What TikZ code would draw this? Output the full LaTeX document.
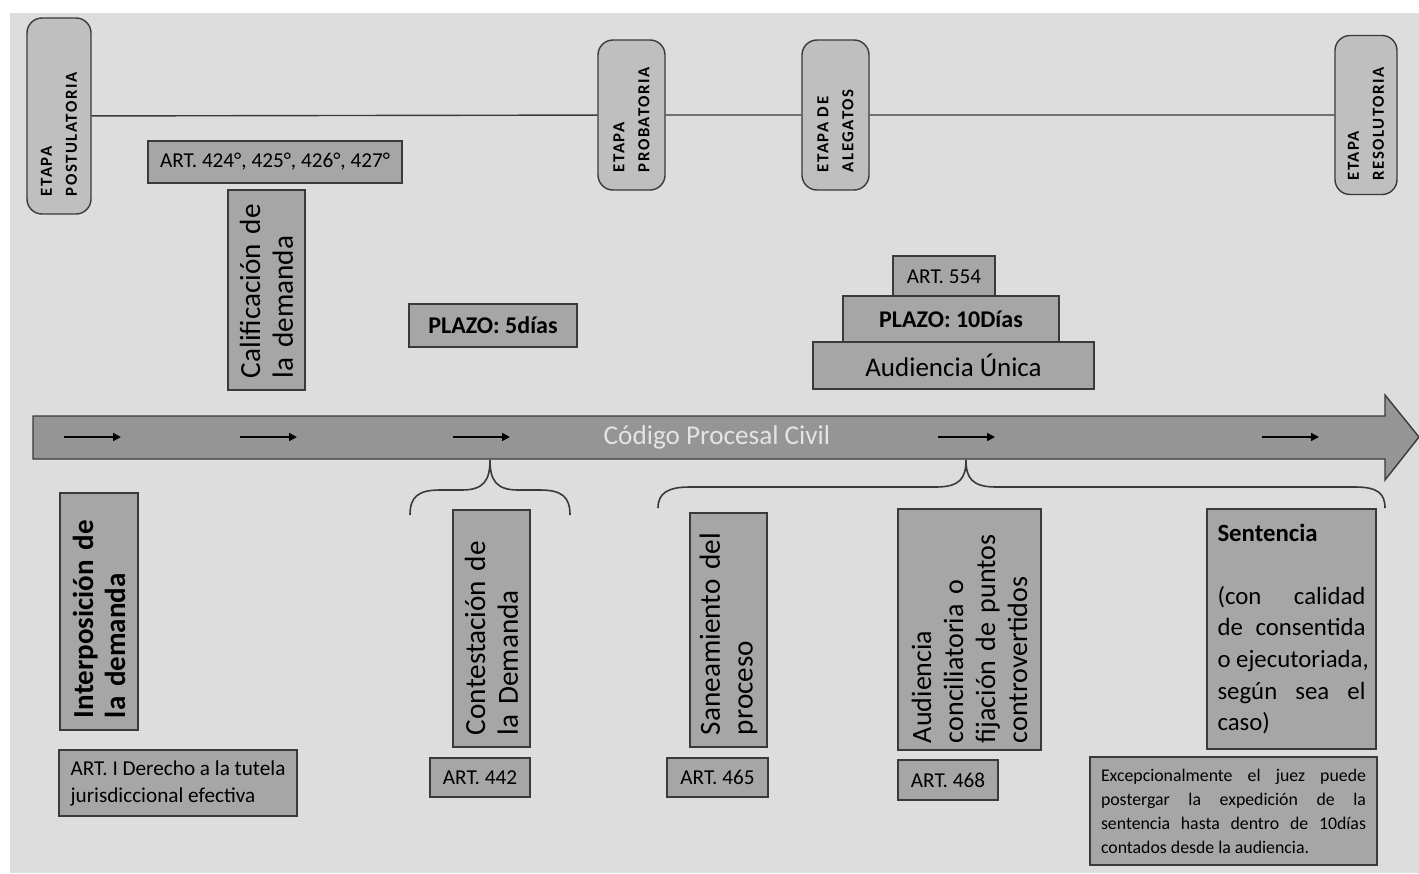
\documentclass[tikz,border=0pt]{standalone}
\usepackage{fontspec}
\setmainfont{Carlito}
\newfontfamily\etapafont[LetterSpace=9]{Carlito}
\usepackage{tikz}
\usetikzlibrary{arrows.meta}
\definecolor{paper}{HTML}{DDDDDD}
\definecolor{edge}{HTML}{3A3A3A}
\definecolor{boxfill}{HTML}{A6A6A6}
\definecolor{etapafill}{HTML}{BFBFBF}
\definecolor{arrowfill}{HTML}{959595}
\definecolor{arrowtext}{HTML}{E4E4E4}
\tikzset{
  base/.style={draw=edge, line width=0.7pt},
  etapa/.style={base, fill=etapafill, rounded corners=7.5pt, rotate=90, align=left,
    inner xsep=9pt, font=\etapafont\fontsize{8.4}{12.5}\selectfont\bfseries},
  caja/.style={base, fill=boxfill, inner sep=0pt, align=center},
  vcaja/.style={base, fill=boxfill, rotate=90, align=left, inner xsep=6pt},
  lab/.style={font=\fontsize{10.6}{13.5}\selectfont},
  labb/.style={font=\fontsize{12}{14}\selectfont\bfseries},
  big/.style={font=\fontsize{13.5}{16.5}\selectfont},
  vbig/.style={font=\fontsize{14.6}{16.3}\selectfont},
  vbigb/.style={font=\fontsize{14.5}{16}\selectfont\bfseries},
  flecha/.style={draw=black, line width=0.8pt, -{Triangle[length=4pt,width=4pt]}},
  llave/.style={draw=edge, line width=0.8pt},
}

\begin{document}
\begin{tikzpicture}[x=0.5pt, y=-0.5pt]
  \useasboundingbox (0,0) rectangle (1419,873);
  \fill[white] (0,0) rectangle (1419,873);
  \fill[paper] (10,13) rectangle (1419,873);

  % etapas del proceso
  \node[etapa, minimum width=98pt, minimum height=32pt, text width=80pt] (post) at (59,116) {ETAPA\\POSTULATORIA};
  \node[etapa, minimum width=75pt, minimum height=33.5pt, text width=57pt, inner xsep=9pt] (prob) at (631.5,115) {ETAPA\\PROBATORIA};
  \node[etapa, minimum width=75pt, minimum height=33.5pt, text width=57pt, inner xsep=9pt] (aleg) at (835.5,115) {ETAPA DE\\ALEGATOS};
  \node[etapa, minimum width=79.5pt, minimum height=31pt, text width=65.5pt, inner xsep=7pt] (reso) at (1366,115) {ETAPA\\RESOLUTORIA};
  \draw[base] (post) -- (prob) -- (aleg) -- (reso);

  % parte superior
  \node[caja, lab, minimum width=127pt, minimum height=21pt] (art424) at (275,162) {ART. 424°, 425°, 426°, 427°};
  \node[vcaja, vbig, text width=88pt, minimum height=38.5pt] (calif) at (266.5,290) {Calificación de\\la demanda};
  \node[caja, labb, minimum width=84pt, minimum height=21.5pt] (plazo5) at (493,325.5) {PLAZO: 5días};
  \node[caja, lab, minimum width=51pt, minimum height=20.5pt] (art554) at (944,276.5) {ART. 554};
  \node[caja, labb, minimum width=108pt, minimum height=23pt] (plazo10) at (951,319) {PLAZO: 10Días};
  \node[caja, big, minimum width=140.5pt, minimum height=23.5pt] (audun) at (953.5,365.5) {Audiencia Única};

  % eje
  \draw[base, fill=arrowfill] (33,416) -- (1385,416) -- (1385,395) -- (1419,437)
    -- (1385,480) -- (1385,459) -- (33,459) -- cycle;
  \node[text=arrowtext, font=\fontsize{13.6}{15}\selectfont] (cpc) at (717,437) {Código Procesal Civil};
  \foreach \x in {64,240,453,938,1262}
    \draw[flecha] (\x,437) -- ++(57,0);

  % llaves
  \draw[llave] (410,515) .. controls (410,497) and (418,490) .. (440,490) -- (462,490)
    .. controls (484,490) and (490,480) .. (490,460)
    .. controls (490,480) and (496,490) .. (518,490) -- (540,490)
    .. controls (562,490) and (570,497) .. (570,515);
  \draw[llave] (658,508) .. controls (658,493) and (668,487) .. (690,487) -- (936,487)
    .. controls (960,487) and (966,478) .. (966,460)
    .. controls (966,478) and (972,487) .. (996,487) -- (1355,487)
    .. controls (1377,487) and (1385,493) .. (1385,508);

  % parte inferior
  \node[vcaja, vbigb, text width=106.5pt, minimum height=39pt] (interp) at (99,611.5) {Interposición de\\la demanda};
  \node[caja, lab, minimum width=119pt, minimum height=33pt, align=left] (artI) at (178,783) {ART. I Derecho a la tutela\\jurisdiccional efectiva};
  \node[vcaja, vbig, text width=106.5pt, minimum height=38.5pt] (contest) at (491.5,628.5) {Contestación de\\la Demanda};
  \node[caja, lab, minimum width=50pt, minimum height=19.5pt] (art442) at (480,777.5) {ART. 442};
  \node[vcaja, vbig, text width=105pt, minimum height=38.5pt] (sanea) at (728.5,630) {Saneamiento del\\proceso};
  \node[caja, lab, minimum width=50.5pt, minimum height=19.5pt] (art465) at (717.5,777.5) {ART. 465};
  \node[vcaja, font=\fontsize{14}{16}\selectfont, text width=113.5pt, inner xsep=3.5pt, minimum height=71.5pt] (audcon) at (969.5,629.5) {Audiencia\\conciliatoria o\\fijación de puntos\\controvertidos};
  \node[caja, lab, minimum width=50pt, minimum height=20pt] (art468) at (948,780) {ART. 468};
  \node[base, fill=boxfill, minimum width=84.5pt, minimum height=120pt, text width=74pt,
    inner xsep=5.25pt, align=justify, font=\fontsize{12.4}{15.8}\selectfont] (sent) at (1291.5,629)
    {\textbf{Sentencia}\\[15.8pt](con\hfill calidad\\de\hfill consentida\\\mbox{o ejecutoriada,}\\según\hfill sea\hfill el\\caso)};
  \node[base, fill=boxfill, minimum width=143.5pt, minimum height=54pt, text width=132.5pt,
    inner xsep=5.5pt, align=justify, font=\fontsize{8.9}{12}\selectfont] (excep) at (1233.5,811)
    {Excepcionalmente\hfill el\hfill juez\hfill puede\\postergar\hfill la\hfill expedición\hfill de\hfill la\\sentencia\hfill hasta\hfill dentro\hfill de\hfill 10días\\contados desde la audiencia.};
\end{tikzpicture}
\end{document}
